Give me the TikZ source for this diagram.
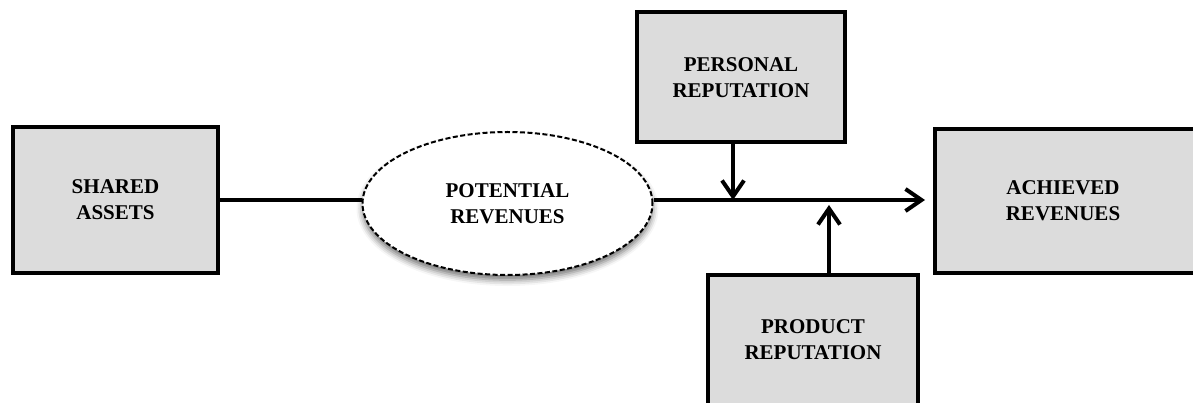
\documentclass[tikz,border=0pt]{standalone}
\usepackage{fontspec}
\setmainfont{Liberation Serif}
\usetikzlibrary{arrows.meta,shapes.geometric,shadows.blur}
\definecolor{boxgray}{HTML}{DCDCDC}
\tikzset{
  x=1pt,y=-1pt,
  box/.style={draw=black,line width=3.2pt,fill=boxgray,rectangle,inner sep=0pt,
    font=\fontsize{21}{26}\selectfont\bfseries,align=center},
  lbl/.style={font=\fontsize{21}{26}\selectfont\bfseries,align=center},
  conn/.style={line width=4pt},
  arr/.style={conn,-{Straight Barb[length=16pt,width=22pt,line width=4pt]}},
}
\begin{document}
\begin{tikzpicture}
\useasboundingbox (0,0) rectangle (1193,403);
% boxes
\node[box,minimum width=205pt,minimum height=146pt] (shared) at (115.5,200) {SHARED\\ASSETS};
\node[box,minimum width=208pt,minimum height=130pt] (personal) at (741,77) {};
\node[lbl] (personalt) at (741,78) {PERSONAL\\REPUTATION};
\node[box,minimum width=210pt,minimum height=160pt] (product) at (813,355) {};
\node[lbl] (productt) at (813,340) {PRODUCT\\REPUTATION};
\node[box,minimum width=290pt,minimum height=144pt] (achieved) at (1080,201) {};
\node[lbl] (achievedt) at (1063,201) {ACHIEVED\\REVENUES};
% ellipse
\node[ellipse,draw=black,dash pattern=on 5pt off 2.5pt,line width=2pt,fill=white,
  minimum width=290pt,minimum height=143pt,inner sep=0pt,
  blur shadow={shadow xshift=0pt,shadow yshift=-5pt,shadow blur radius=6pt,shadow opacity=55},
  lbl] (pot) at (507.5,203.5) {POTENTIAL\\REVENUES};
% connectors
\coordinate (tip) at (925,200);
\coordinate (pj) at (733,200);
\coordinate (pdj) at (829,205);
\draw[conn] (shared.east |- 0,200) -- (pot.west |- 0,200);
\draw[arr] (pot.east |- 0,200) -- (tip);
\draw[arr] (personal.south -| pj) -- (pj);
\draw[arr] (product.north -| pdj) -- (pdj);
\end{tikzpicture}
\end{document}
